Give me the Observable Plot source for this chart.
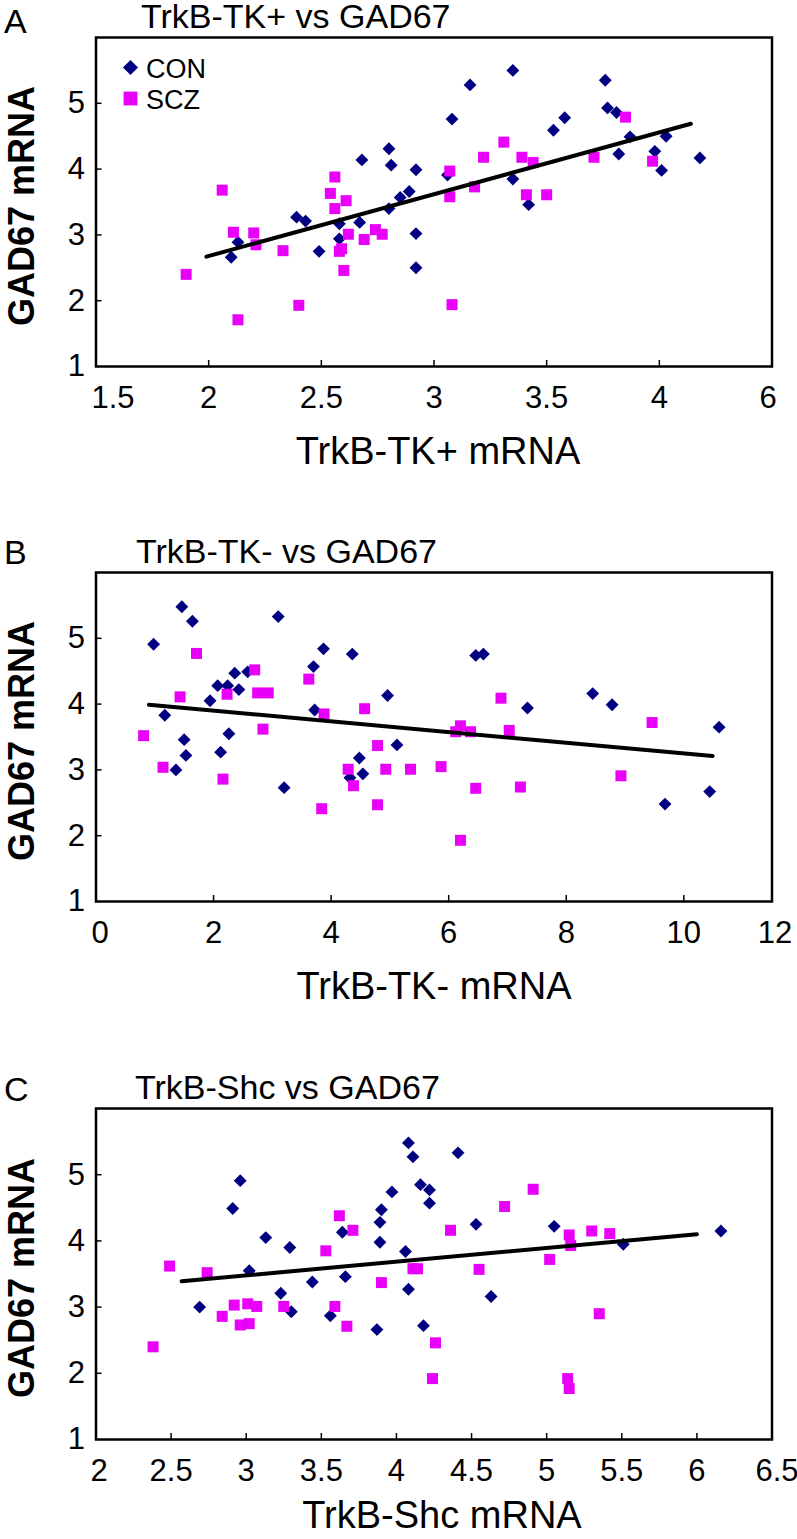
<!DOCTYPE html>
<html>
<head>
<meta charset="utf-8">
<script src="https://cdn.jsdelivr.net/npm/d3@7"></script>
<script src="https://cdn.jsdelivr.net/npm/@observablehq/plot@0.6"></script>
<style>
  html, body { margin: 0; padding: 0; background: #fff; }
  #chart { width: 797px; }
  #chart svg { display: block; }
</style>
</head>
<body>
<div id="chart"></div>
<script>
// ---------- data ----------
const seriesNames = ["CON", "SCZ"];
const yTickValues = [1, 2, 3, 4, 5];
const yDomain = [1, 6];
const yLabel = "GAD67 mRNA";

// Panel A: TrkB-TK+ vs GAD67
const aXTicks = [1.5, 2, 2.5, 3, 3.5, 4, 4.5];
const aXTickLabels = ["1.5", "2", "2.5", "3", "3.5", "4", "6"];
const aConX = [2.10, 2.13, 2.39, 2.43, 2.49, 2.58, 2.58, 2.67, 2.68, 2.80, 2.81, 2.80, 2.85, 2.89, 2.92, 2.92, 2.92,
               3.06, 3.08, 3.16, 3.35, 3.35, 3.42, 3.53, 3.58, 3.76, 3.77, 3.81, 3.82, 3.87, 3.98, 4.01, 4.03, 4.18];
const aConY = [2.66, 2.89, 3.27, 3.21, 2.75, 3.17, 2.94, 3.19, 4.14, 4.31, 4.06, 3.40, 3.57, 3.66, 3.99, 3.02, 2.50,
               3.91, 4.76, 5.28, 5.50, 3.85, 3.46, 4.59, 4.78, 5.35, 4.93, 4.86, 4.23, 4.49, 4.27, 3.98, 4.50, 4.17];
const aSczX = [1.90, 2.06, 2.11, 2.13, 2.20, 2.21, 2.33, 2.40, 2.54, 2.56, 2.56, 2.61, 2.58, 2.59, 2.60, 2.62, 2.69, 2.74, 2.77,
               3.07, 3.07, 3.08, 3.18, 3.22, 3.31, 3.39, 3.44, 3.41, 3.50, 3.71, 3.85, 3.97];
const aSczY = [2.40, 3.68, 3.04, 1.71, 3.03, 2.85, 2.76, 1.93, 3.63, 3.88, 3.40, 3.52, 2.75, 2.79, 2.46, 3.01, 2.93, 3.08, 3.01,
               3.97, 3.58, 1.94, 3.73, 4.18, 4.41, 4.18, 4.10, 3.61, 3.61, 4.18, 4.79, 4.12];
const aFitX = [1.99, 4.14];
const aFitY = [2.67, 4.69];

// Panel B: TrkB-TK- vs GAD67
const bXTicks = [0, 2, 4, 6, 8, 10, 11.5];
const bXTickLabels = ["0", "2", "4", "6", "8", "10", "12"];
const bConX = [0.98, 1.17, 1.36, 1.46, 1.50, 1.53, 1.64, 1.94, 2.07, 2.12, 2.24, 2.26, 2.36, 2.43, 2.58, 3.10, 3.20,
               3.70, 3.72, 3.87, 4.32, 4.36, 4.48, 4.54, 4.96, 5.12, 6.46, 6.59, 7.34, 8.45, 8.78, 9.68, 10.44, 10.60];
const bConY = [4.91, 3.83, 3.00, 5.48, 3.46, 3.22, 5.26, 4.05, 4.28, 3.27, 4.28, 3.55, 4.47, 4.22, 4.49, 5.33, 2.73,
               4.57, 3.91, 4.84, 2.88, 4.76, 3.18, 2.94, 4.13, 3.38, 4.74, 4.76, 3.94, 4.16, 3.99, 2.48, 2.67, 3.65];
const bSczX = [0.81, 1.14, 1.43, 1.71, 2.16, 2.23, 2.70, 2.75, 2.93, 2.84, 3.62, 3.84, 3.88, 4.29, 4.38, 4.57,
               4.79, 4.79, 4.93, 5.35, 5.87, 6.20, 6.12, 6.37, 6.46, 6.20, 6.89, 7.03, 7.22, 8.93, 9.46];
const bSczY = [3.52, 3.04, 4.11, 4.77, 2.86, 4.15, 4.52, 4.17, 4.17, 3.62, 4.38, 2.41, 3.85, 3.01, 2.76, 3.93,
               3.37, 2.47, 3.01, 3.01, 3.05, 3.67, 3.58, 3.58, 2.72, 1.93, 4.09, 3.60, 2.74, 2.91, 3.72];
const bFitX = [0.90, 10.49];
const bFitY = [3.99, 3.21];

// Panel C: TrkB-Shc vs GAD67
const cXTicks = [2, 2.5, 3, 3.5, 4, 4.5, 5, 5.5, 6, 6.5];
const cXTickLabels = ["2", "2.5", "3", "3.5", "4", "4.5", "5", "5.5", "6", "6.5"];
const cConX = [2.69, 2.91, 2.96, 3.02, 3.13, 3.23, 3.29, 3.30, 3.44, 3.56, 3.64, 3.66, 3.87, 3.89, 3.89, 3.90,
               3.97, 4.06, 4.08, 4.11, 4.08, 4.16, 4.22, 4.22, 4.18, 4.41, 4.53, 4.63, 5.05, 5.51, 6.16];
const cConY = [3.00, 4.49, 4.91, 3.55, 4.05, 3.21, 3.90, 2.93, 3.38, 2.87, 4.13, 3.46, 2.66, 3.98, 4.28, 4.47,
               4.74, 3.84, 5.48, 5.27, 3.27, 4.85, 4.77, 4.57, 2.72, 5.33, 4.25, 3.16, 4.22, 3.95, 4.15];
const cSczX = [2.38, 2.49, 2.74, 2.84, 2.92, 2.96, 3.01, 3.02, 3.07, 3.25, 3.53, 3.59, 3.62, 3.67, 3.71, 3.90,
               4.11, 4.14, 4.26, 4.24, 4.36, 4.55, 4.72, 4.91, 5.02, 5.15, 5.16, 5.14, 5.15, 5.30, 5.35, 5.42];
const cSczY = [2.40, 3.62, 3.52, 2.86, 3.03, 2.73, 3.05, 2.75, 3.01, 3.01, 3.85, 3.01, 4.38, 2.71, 4.16, 3.37,
               3.58, 3.58, 2.46, 1.92, 4.16, 3.57, 4.52, 4.78, 3.72, 4.09, 3.93, 1.92, 1.77, 4.15, 2.90, 4.11];
const cFitX = [2.57, 6.00];
const cFitY = [3.39, 4.10];

// ---------- styling ----------
const NAVY = "#000080";
const MAGENTA = "#e800f8";
const FONT = "'Liberation Sans', Arial, Helvetica, sans-serif";
const WIDTH = 797, ML = 95.5, MR = 25.5;

const zip = (xs, ys) => xs.map((x, i) => ({x, y: ys[i]}));

function makePanel(c) {
  const con = zip(c.conX, c.conY);
  const scz = zip(c.sczX, c.sczY);
  const fit = zip(c.fitX, c.fitY);
  const labelOf = new Map(c.xTicks.map((t, i) => [t, c.xTickLabels[i]]));
  const plotH = c.height - c.marginTop - c.marginBottom;
  const plotW = WIDTH - ML - MR;
  const n = c.xTicks.length;
  const axisOpts = {tickFormat: d => labelOf.get(d), tickSize: 0, tickPadding: 19, fontSize: 31, label: null};
  const marks = [
    // inward tick marks
    Plot.tickX(c.xTicks.slice(1, -1), {x: d => d, insetTop: plotH - 6, stroke: "#000", strokeWidth: 1.5}),
    Plot.tickY(yTickValues.slice(1), {y: d => d, insetRight: plotW - 6, stroke: "#000", strokeWidth: 1.5}),
    Plot.axisX({...axisOpts, ticks: c.xTicks.slice(1, -1)}),
    Plot.axisX({...axisOpts, ticks: c.xTicks.slice(0, 1), dx: c.firstDx}),
    Plot.axisX({...axisOpts, ticks: c.xTicks.slice(n - 1), dx: c.lastDx}),
    Plot.axisY({ticks: yTickValues, tickFormat: d => String(d), tickSize: 0, tickPadding: 11, fontSize: 31, label: null}),
    Plot.dot(con, {x: "x", y: "y", symbol: "diamond2", r: 5.8, fill: NAVY}),
    Plot.dot(scz, {x: "x", y: "y", symbol: "square", r: 6.2, fill: MAGENTA}),
    Plot.line(fit, {x: "x", y: "y", stroke: "#000", strokeWidth: 4}),
    Plot.frame({stroke: "#000", strokeWidth: 2.5}),
    // panel letter, title, axis titles
    Plot.text([c.letter], {text: d => d, frameAnchor: "top-left", textAnchor: "start", lineAnchor: "bottom",
      dx: -92, dy: c.letterDy, fontSize: 34}),
    Plot.text([c.title], {text: d => d, frameAnchor: "top-left", textAnchor: "start", lineAnchor: "bottom",
      dx: c.titleDx, dy: -9.5, fontSize: 34}),
    Plot.text([c.xLabel], {text: d => d, frameAnchor: "bottom", lineAnchor: "bottom",
      dx: c.xLabelDx, dy: c.xLabelDy, fontSize: 38}),
    Plot.text([yLabel], {text: d => d, frameAnchor: "left", rotate: -90, textAnchor: "middle", lineAnchor: "bottom",
      dx: -62.5, dy: 4, fontSize: 36, fontWeight: "bold"})
  ];
  if (c.legend) {
    marks.push(
      Plot.dot([seriesNames[0]], {frameAnchor: "top-left", dx: 34.5, dy: 30, symbol: "diamond2", r: 6.8, fill: NAVY}),
      Plot.dot([seriesNames[1]], {frameAnchor: "top-left", dx: 34.5, dy: 61, symbol: "square", r: 7.8, fill: MAGENTA}),
      Plot.text([seriesNames[0]], {text: d => d, frameAnchor: "top-left", textAnchor: "start", lineAnchor: "bottom",
        dx: 50, dy: 40, fontSize: 27}),
      Plot.text([seriesNames[1]], {text: d => d, frameAnchor: "top-left", textAnchor: "start", lineAnchor: "bottom",
        dx: 50, dy: 71, fontSize: 27})
    );
  }
  return Plot.plot({
    width: WIDTH,
    height: c.height,
    marginLeft: ML,
    marginRight: MR,
    marginTop: c.marginTop,
    marginBottom: c.marginBottom,
    x: {domain: c.xDomain},
    y: {domain: yDomain},
    style: {fontFamily: FONT, color: "#000", background: "#fff", overflow: "visible"},
    marks
  });
}

const chart = document.getElementById("chart");
chart.append(makePanel({
  letter: "A", letterDy: -5, title: "TrkB-TK+ vs GAD67", titleDx: 45, xLabel: "TrkB-TK+ mRNA", xLabelDx: 4, xLabelDy: 97.5,
  xDomain: [1.5, 4.5], xTicks: aXTicks, xTickLabels: aXTickLabels, firstDx: 17, lastDx: -4,
  conX: aConX, conY: aConY, sczX: aSczX, sczY: aSczY, fitX: aFitX, fitY: aFitY,
  height: 535, marginTop: 37, marginBottom: 169, legend: true
}));
chart.append(makePanel({
  letter: "B", letterDy: -8.5, title: "TrkB-TK- vs GAD67", titleDx: 40, xLabel: "TrkB-TK- mRNA", xLabelDx: 0, xLabelDy: 97.5,
  xDomain: [0, 11.5], xTicks: bXTicks, xTickLabels: bXTickLabels, firstDx: 4, lastDx: 3,
  conX: bConX, conY: bConY, sczX: bSczX, sczY: bSczY, fitX: bFitX, fitY: bFitY,
  height: 536, marginTop: 37, marginBottom: 170, legend: false
}));
chart.append(makePanel({
  letter: "C", letterDy: -8, title: "TrkB-Shc vs GAD67", titleDx: 39, xLabel: "TrkB-Shc mRNA", xLabelDx: 8, xLabelDy: 88,
  xDomain: [2, 6.5], xTicks: cXTicks, xTickLabels: cXTickLabels, firstDx: 3, lastDx: 5,
  conX: cConX, conY: cConY, sczX: cSczX, sczY: cSczY, fitX: cFitX, fitY: cFitY,
  height: 468, marginTop: 37, marginBottom: 100, legend: false
}));
</script>
</body>
</html>
